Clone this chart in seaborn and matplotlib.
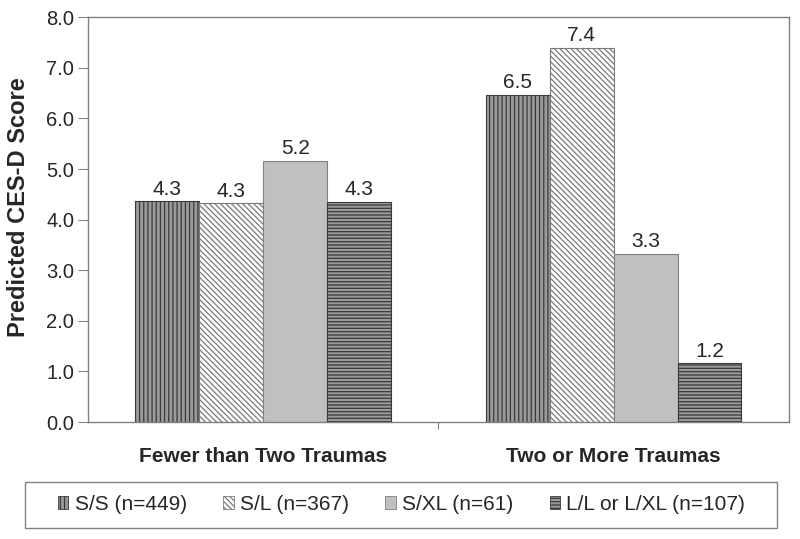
import pandas as pd
import numpy as np
import seaborn as sns
import matplotlib.pyplot as plt

# values
groups = ['Fewer than Two Traumas', 'Two or More Traumas']
genotypes = ['S/S (n=449)', 'S/L (n=367)', 'S/XL (n=61)', 'L/L or L/XL (n=107)']
fewer_scores = [4.36, 4.32, 5.16, 4.35]
more_scores = [6.46, 7.40, 3.33, 1.16]
fewer_labels = ['4.3', '4.3', '5.2', '4.3']
more_labels = ['6.5', '7.4', '3.3', '1.2']

df = pd.DataFrame({
    'group': [groups[0]] * 4 + [groups[1]] * 4,
    'genotype': genotypes * 2,
    'score': fewer_scores + more_scores,
})

sns.set_style('white')
plt.rcParams['font.family'] = ['Liberation Sans', 'DejaVu Sans']
plt.rcParams['hatch.linewidth'] = 0.9

fig = plt.figure(figsize=(8, 5.39), dpi=100)
ax = fig.add_axes([0.11, 0.217, 0.876, 0.751])

sns.barplot(data=df, x='group', y='score', hue='genotype', hue_order=genotypes,
            width=0.73, ax=ax, legend=False, saturation=1)

# style per genotype: facecolor, edgecolor, hatch
styles = [('#9a9a9a', '#3a3a3a', '||||'),
          ('#ffffff', '#7a7a7a', '\\\\\\\\\\\\'),
          ('#c0c0c0', '#808080', ''),
          ('#9a9a9a', '#3a3a3a', '-----')]
for cont, (fc, ec, h) in zip(ax.containers, styles):
    for p in cont:
        p.set_facecolor(fc)
        p.set_edgecolor(ec)
        p.set_hatch(h)
        p.set_linewidth(0.8)

# value labels
for i, cont in enumerate(ax.containers):
    labs = [fewer_labels[i], more_labels[i]]
    ax.bar_label(cont, labels=labs, padding=2, fontsize=15)

ax.set_ylim(0, 8)
ax.set_yticks(np.arange(0, 8.1, 1))
ax.set_yticklabels([f'{v:.1f}' for v in np.arange(0, 8.1, 1)], fontsize=14.5)
ax.set_xlim(-0.5, 1.5)
ax.set_xlabel('')
ax.set_ylabel('Predicted CES-D Score', fontsize=17, fontweight='bold')
ax.yaxis.set_label_coords(-0.083, 0.53)
ax.set_xticks([0, 1])
ax.set_xticklabels(groups, fontsize=15, fontweight='bold')
ax.set_xticks([0.5], minor=True)
ax.tick_params(axis='x', which='major', length=0, pad=18)
ax.tick_params(axis='x', which='minor', length=5, width=0.8, color='#808080', direction='out', bottom=True)
ax.tick_params(axis='y', length=7, width=0.8, color='#808080', direction='out', left=True, pad=3)

for s in ax.spines.values():
    s.set_color('#808080')
    s.set_linewidth(1.0)

# legend below the plot, with its own box
handles = []
for (fc, ec, h), name in zip(styles, genotypes):
    handles.append(plt.Rectangle((0, 0), 1, 1, facecolor=fc, edgecolor=ec, hatch=h, linewidth=0.6))
leg = fig.legend(handles, genotypes, loc='center', bbox_to_anchor=(0.502, 0.0645), ncol=4,
                 fontsize=15, frameon=False, handlelength=0.5, handleheight=0.55,
                 handletextpad=0.3, columnspacing=1.75, borderaxespad=0)
box = plt.Rectangle((25 / 800, 1 - 528 / 539), 752 / 800, 46 / 539, transform=fig.transFigure,
                    facecolor='none', edgecolor='#808080', linewidth=1.0)
fig.patches.append(box)

fig.savefig('out.png', dpi=100)
